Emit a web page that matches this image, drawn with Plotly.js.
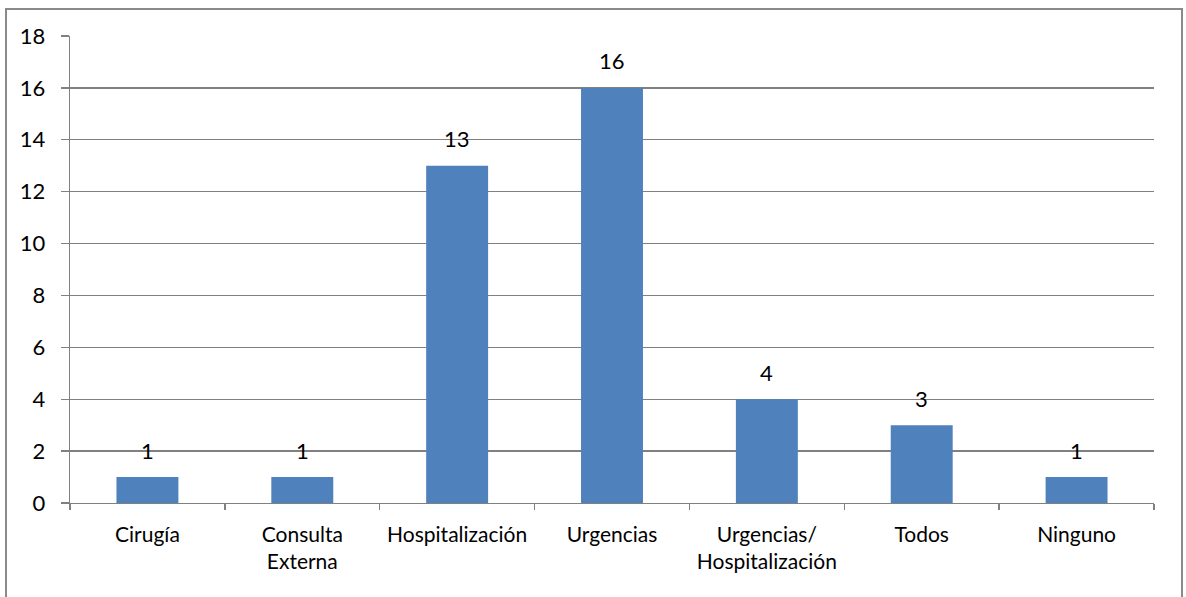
<!DOCTYPE html>
<html>
<head>
<meta charset="utf-8">
<script src="https://cdn.plot.ly/plotly-3.0.1.min.js"></script>
<style>
  html, body { margin: 0; padding: 0; background: #fff; overflow: hidden; }
  #frame {
    position: absolute; left: 5px; top: 8px;
    width: 1174px; height: 600px;
    border: 2px solid #8a8a8a;
  }
  #chart { position: absolute; left: 0; top: 0; width: 1186px; height: 597px; }
</style>
</head>
<body>
<div id="frame"></div>
<div id="chart"></div>
<script>
// Servicios y número de respuestas
const categories = [
  'Cirugía',
  'Consulta<br>Externa',
  'Hospitalización',
  'Urgencias',
  'Urgencias/<br>Hospitalización',
  'Todos',
  'Ninguno'
];
const values = [1, 1, 13, 16, 4, 3, 1];
const yTicks = [0, 2, 4, 6, 8, 10, 12, 14, 16, 18];

const FONT = 'Lato, "Open Sans", sans-serif';
const GRID = '#808080';

const trace = {
  type: 'bar',
  x: categories,
  y: values,
  marker: { color: '#4F81BD', line: { width: 0 } },
  hoverinfo: 'skip'
};

// Value labels above each bar
const annotations = categories.map((c, i) => ({
  x: c, y: values[i], xref: 'x', yref: 'y',
  text: String(values[i]),
  showarrow: false,
  yanchor: 'middle',
  yshift: 27,
  font: { family: FONT, size: 22, color: '#000' }
}));

const layout = {
  width: 1186, height: 597,
  margin: { l: 70, r: 32, t: 36, b: 94 },
  paper_bgcolor: 'rgba(0,0,0,0)',
  plot_bgcolor: 'rgba(0,0,0,0)',
  showlegend: false,
  bargap: 0.6,
  xaxis: {
    type: 'category',
    tickson: 'boundaries',
    ticks: 'outside', ticklen: 6, tickcolor: GRID, tickwidth: 1.3,
    showline: true, linecolor: GRID, linewidth: 1.3,
    showgrid: false,
    tickfont: { family: FONT, size: 21, color: '#000' },
    ticklabelstandoff: 12,
    fixedrange: true
  },
  yaxis: {
    range: [0, 18],
    tickmode: 'array', tickvals: yTicks, ticktext: yTicks.map(String),
    ticks: 'outside', ticklen: 8, tickcolor: GRID, tickwidth: 1.3,
    showline: true, linecolor: GRID, linewidth: 1.3,
    showgrid: true, gridcolor: GRID, gridwidth: 1.3,
    zeroline: false,
    tickfont: { family: FONT, size: 22, color: '#000' },
    ticklabelstandoff: 11,
    fixedrange: true
  },
  annotations: annotations
};

Plotly.newPlot('chart', [trace], layout, { displayModeBar: false, staticPlot: true });
</script>
</body>
</html>
